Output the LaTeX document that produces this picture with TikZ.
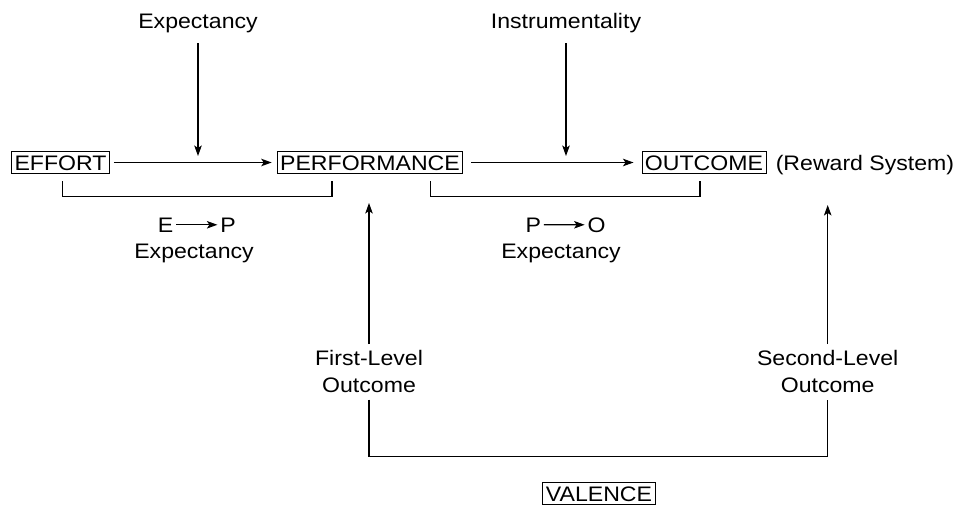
\documentclass[tikz,border=0pt]{standalone}
\usepackage{fontspec}
\setmainfont[FakeStretch=1.1]{Liberation Sans}
\usepackage{tikz}
\usetikzlibrary{arrows.meta,calc}

\begin{document}
\begin{tikzpicture}[x=1pt,y=-1pt,>={Stealth[length=10.5pt,width=7.5pt,inset=2.5pt]},line width=1.15pt,align=center,
		font=\fontsize{21}{27}\selectfont,
		box/.style={draw,line width=0.9pt,text height=15pt,text depth=0pt,inner xsep=3pt,inner ysep=3.3pt},
		lbl/.style={anchor=base}]
		\useasboundingbox (0,0) rectangle (956,504);
		% main chain
		\node[box] (effort) at (60.5,162.5) {EFFORT};
		\node[box] (perf) at (370,162.5) {PERFORMANCE};
		\node[box] (outc) at (704,162.5) {OUTCOME};
		\node[lbl] (reward) at (865,170) {(Reward System)};
		\node[box] (valence) at (599,493.5) {VALENCE};
		% labels on top
		\node[lbl] (expct) at (198,28) {Expectancy};
		\node[lbl] (instr) at (566,28) {Instrumentality};
		% expectancies under the brackets
		\node[lbl] (ep_e) at (165.6,232) {E};
		\node[lbl] (ep_p) at (228,232) {P};
		\node[lbl] (ep_x) at (194,258) {Expectancy};
		\node[lbl] (po_p) at (533.3,232) {P};
		\node[lbl] (po_o) at (596.5,232) {O};
		\node[lbl] (po_x) at (561,258) {Expectancy};
		% outcome levels
		\node[inner ysep=6pt] (lvl_1) at (369,371.9) {First-Level\\Outcome};
		\node[inner ysep=6pt] (lvl_2) at (827.7,371.9) {Second-Level\\Outcome};

		\draw[->,shorten <=4pt,shorten >=5pt] (effort) -- (perf);
		\draw[->,shorten <=8pt,shorten >=8pt] (perf) -- (outc);
		\draw[->,shorten <=7pt,shorten >=6.5pt] (expct) -- (expct |- effort);
		\draw[->,shorten <=7pt,shorten >=6.5pt] (instr) -- (instr |- outc);
		\draw[->,shorten <=-1pt,shorten >=-1pt] (ep_e) -- (ep_p);
		\draw[->,shorten <=-1pt,shorten >=-1pt] (po_p) -- (po_o);
		% brackets
		\draw ($(effort.south)+(2,7.5)$) -- ++(0,15.5) -| ($(perf.south)+(-38,7.5)$);
		\draw ($(perf.south)+(60.7,7.5)$) -- ++(0,15.5) -| ($(outc.south)+(-4,7.5)$);
		% valence loop
		\draw[->,shorten >=40.5pt] (lvl_1) -- (lvl_1 |- perf);
		\draw[->,shorten >=42.5pt] (lvl_2) -- (lvl_2 |- outc);
		\draw (lvl_1.south) -- ++(0,56.5) -| (lvl_2.south);
	\end{tikzpicture}
\end{document}
